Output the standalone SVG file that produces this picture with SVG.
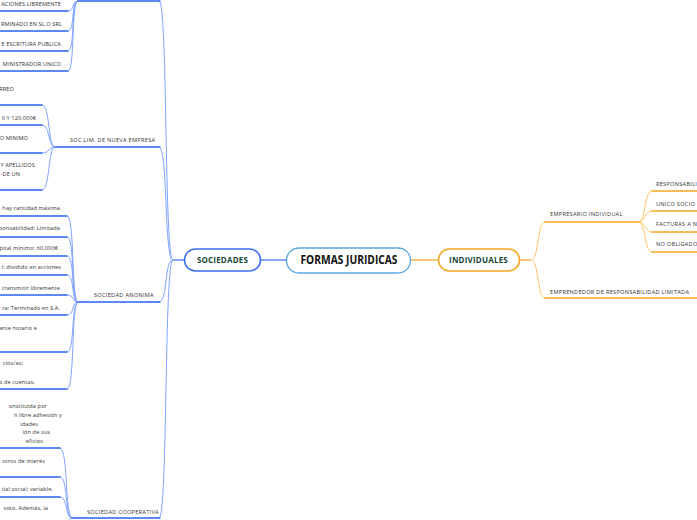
<svg xmlns="http://www.w3.org/2000/svg" width="697" height="520" viewBox="0 0 697 520">
<style>
.bg{fill:#ffffff}
.ul{stroke:#2d62f2;stroke-width:1.4;fill:none;stroke-linecap:round}
.cv{stroke:#7fa4ff;stroke-width:1;fill:none}
.oul{stroke:#f6a623;stroke-width:1.4;fill:none;stroke-linecap:round}
.ocv{stroke:#fbc46b;stroke-width:1;fill:none}
.t{font-family:"Open Sans","Noto Sans","DejaVu Sans",sans-serif;font-size:5.6px;fill:#333333;letter-spacing:0.28px}
.te{font-family:"Open Sans","Noto Sans","DejaVu Sans",sans-serif;font-size:5.6px;fill:#333333;text-anchor:end;letter-spacing:0.1px}
.tu{font-family:"Open Sans","Noto Sans","DejaVu Sans",sans-serif;font-size:5.6px;fill:#333333;text-anchor:end;letter-spacing:0.1px}
.lab{font-family:"Open Sans","Noto Sans","DejaVu Sans",sans-serif;font-size:5.6px;fill:#333333;letter-spacing:0.3px}
.main{font-family:"Open Sans","Noto Sans","DejaVu Sans",sans-serif;font-size:8px;font-weight:bold;fill:#17463a;text-anchor:middle;letter-spacing:0.2px}
.root{font-family:"Open Sans","Noto Sans","DejaVu Sans",sans-serif;font-size:11.5px;font-weight:bold;fill:#111111;text-anchor:middle}
</style>
<rect class="bg" x="0" y="0" width="697" height="520"/>

<g id="connectors">
  <line x1="261" y1="260" x2="286" y2="260" stroke="#3b6ef5" stroke-width="1.2"/>
  <line x1="411" y1="260" x2="438" y2="260" stroke="#f6a623" stroke-width="1.2"/>
  <line x1="184" y1="260" x2="173" y2="260" stroke="#3b6ef5" stroke-width="1.2"/>
  <path class="cv" d="M173,260 C164,260 168,1 159,1"/>
  <path class="cv" d="M173,260 C164,260 168,147 159,147"/>
  <path class="cv" d="M173,260 C164,260 168,302 159,302"/>
  <path class="cv" d="M173,260 C164,260 168,518 159,518"/>
  <path class="cv" d="M78,1 C71,1 75,11 68,11"/>
  <path class="cv" d="M78,1 C71,1 75,31 68,31"/>
  <path class="cv" d="M78,1 C71,1 75,51 68,51"/>
  <path class="cv" d="M78,1 C71,1 75,71 68,71"/>
  <path class="cv" d="M55,147 C48,147 50,105 42,105"/>
  <path class="cv" d="M55,147 C48,147 50,125 42,125"/>
  <path class="cv" d="M55,147 C48,147 50,153 42,153"/>
  <path class="cv" d="M55,147 C48,147 50,190 42,190"/>
  <path class="cv" d="M78,302 C71,302 75,216 67,216"/>
  <path class="cv" d="M78,302 C71,302 75,237 67,237"/>
  <path class="cv" d="M78,302 C71,302 75,256 67,256"/>
  <path class="cv" d="M78,302 C71,302 75,275 67,275"/>
  <path class="cv" d="M78,302 C71,302 75,295 67,295"/>
  <path class="cv" d="M78,302 C71,302 75,315 67,315"/>
  <path class="cv" d="M78,302 C71,302 75,352 67,352"/>
  <path class="cv" d="M78,302 C71,302 75,389 67,389"/>
  <path class="cv" d="M72,518 C65,518 68,448 60,448"/>
  <path class="cv" d="M72,518 C65,518 68,477 60,477"/>
  <path class="cv" d="M72,518 C65,518 68,497 60,497"/>
  <path class="cv" d="M72,518 C65,518 68,545 60,545"/>
  <line x1="519" y1="260" x2="531" y2="260" stroke="#f6a623" stroke-width="1.2"/>
  <path class="ocv" d="M531,260 C539,260 537,222 545,222"/>
  <path class="ocv" d="M531,260 C539,260 537,298 545,298"/>
  <path class="ocv" d="M638,222 C646,222 644,191 652,191"/>
  <path class="ocv" d="M638,222 C646,222 644,211 652,211"/>
  <path class="ocv" d="M638,222 C646,222 644,232 652,232"/>
  <path class="ocv" d="M638,222 C646,222 644,252 652,252"/>
</g>

<g id="root">
  <rect x="286.5" y="248" width="124" height="25" rx="12.5" fill="#ffffff" stroke="#5aa8df" stroke-width="1.3"/>
  <text class="root" x="349" y="264.3" textLength="97" lengthAdjust="spacingAndGlyphs">FORMAS JURIDICAS</text>
</g>

<g id="sociedades">
  <rect x="184.5" y="249" width="76" height="22" rx="11" fill="#ffffff" stroke="#3b6ef5" stroke-width="1.6"/>
  <text class="main" x="222.5" y="262.8">SOCIEDADES</text>
</g>

<g id="individuales">
  <rect x="438.5" y="249" width="81" height="22" rx="11" fill="#ffffff" stroke="#f6a623" stroke-width="1.6"/>
  <text class="main" x="478.5" y="262.8">INDIVIDUALES</text>
</g>

<g id="top-branch">
  <line class="ul" x1="78" y1="1" x2="160" y2="1"/>
</g>
<g id="top-c1"><line class="ul" x1="-2" y1="11" x2="68" y2="11"/><text class="tu" x="61" y="6.2">ACIONES LIBREMENTE</text></g>
<g id="top-c2"><line class="ul" x1="-2" y1="31" x2="68" y2="31"/><text class="tu" x="62" y="26.2">RMINADO EN SL O SRL</text></g>
<g id="top-c3"><line class="ul" x1="-2" y1="51" x2="68" y2="51"/><text class="tu" x="61" y="45.7">E ESCRITURA PUBLICA</text></g>
<g id="top-c4"><line class="ul" x1="-2" y1="71" x2="68" y2="71"/><text class="tu" x="61" y="65.7">MINISTRADOR UNICO</text></g>

<g id="soclim">
  <line class="ul" x1="55" y1="147" x2="160" y2="147"/>
  <text class="lab" x="70" y="142">SOC.LIM. DE NUEVA EMPRESA</text>
</g>
<g id="soclim-c1"><line class="ul" x1="-2" y1="105" x2="42" y2="105"/><text class="tu" x="14" y="91">RREO</text></g>
<g id="soclim-c2"><line class="ul" x1="-2" y1="125" x2="42" y2="125"/><text class="tu" x="36" y="120">0 Y 120.000€</text></g>
<g id="soclim-c3"><line class="ul" x1="-2" y1="153" x2="42" y2="153"/><text class="tu" x="28" y="140">O MINIMO</text></g>
<g id="soclim-c4"><line class="ul" x1="-2" y1="190" x2="42" y2="190"/><text class="tu" x="35" y="167">Y APELLIDOS</text><text class="tu" x="20" y="176">-DE UN</text></g>

<g id="anonima">
  <line class="ul" x1="78" y1="302" x2="160" y2="302"/>
  <text class="lab" x="94" y="297">SOCIEDAD ANONIMA</text>
</g>
<g id="anon-c1"><line class="ul" x1="-2" y1="216" x2="67" y2="216"/><text class="te" x="60" y="210">hay cantidad máxima</text></g>
<g id="anon-c2"><line class="ul" x1="-2" y1="237" x2="67" y2="237"/><text class="te" x="60" y="230">ponsabilidad: Limitada</text></g>
<g id="anon-c3"><line class="ul" x1="-2" y1="256" x2="67" y2="256"/><text class="te" x="58" y="250">pital mínimo: 60.000€</text></g>
<g id="anon-c4"><line class="ul" x1="-2" y1="275" x2="67" y2="275"/><text class="te" x="61" y="269">l: dividido en acciones</text></g>
<g id="anon-c5"><line class="ul" x1="-2" y1="295" x2="67" y2="295"/><text class="te" x="60" y="290">transmitir libremente</text></g>
<g id="anon-c6"><line class="ul" x1="-2" y1="315" x2="67" y2="315"/><text class="te" x="60" y="310">ra: Terminado en S.A.</text></g>
<g id="anon-c7"><line class="ul" x1="-2" y1="352" x2="67" y2="352"/><text class="te" x="37" y="330">ante notario e</text></g>
<g id="anon-c8"><line class="ul" x1="-2" y1="389" x2="67" y2="389"/><text class="te" x="23" y="365">cios/as;</text><text class="te" x="35" y="384">s de cuentas.</text></g>

<g id="cooperativa">
  <line class="ul" x1="72" y1="518" x2="160" y2="518"/>
  <text class="lab" x="87" y="514">SOCIEDAD COOPERATIVA</text>
</g>
<g id="coop-c1"><line class="ul" x1="-2" y1="448" x2="60" y2="448"/>
  <text class="te" x="47" y="408">onstituida por</text>
  <text class="te" x="62" y="417">n libre adhesión y</text>
  <text class="te" x="38" y="425.5">idades</text>
  <text class="te" x="50" y="434">ión de sus</text>
  <text class="te" x="43" y="443">eficios</text>
</g>
<g id="coop-c2"><line class="ul" x1="-2" y1="477" x2="60" y2="477"/><text class="te" x="45" y="463">otros de interés</text></g>
<g id="coop-c3"><line class="ul" x1="-2" y1="497" x2="60" y2="497"/><text class="te" x="53" y="491">ital social: variable.</text></g>
<g id="coop-c4"><line class="ul" x1="-2" y1="545" x2="60" y2="545"/><text class="te" x="48" y="510">voto. Además, la</text></g>

<g id="empresario">
  <line class="oul" x1="545" y1="222" x2="638" y2="222"/>
  <text class="lab" x="550" y="215.5">EMPRESARIO INDIVIDUAL</text>
</g>
<g id="emp-c1"><line class="oul" x1="652" y1="191" x2="700" y2="191"/><text class="t" x="656" y="186">RESPONSABILI</text></g>
<g id="emp-c2"><line class="oul" x1="652" y1="211" x2="700" y2="211"/><text class="t" x="656" y="205.5">UNICO SOCIO</text></g>
<g id="emp-c3"><line class="oul" x1="652" y1="232" x2="700" y2="232"/><text class="t" x="656" y="225.5">FACTURAS A N</text></g>
<g id="emp-c4"><line class="oul" x1="652" y1="252" x2="700" y2="252"/><text class="t" x="656" y="245.5">NO OBLIGADO</text></g>

<g id="emprendedor">
  <line class="oul" x1="545" y1="298" x2="700" y2="298"/>
  <text class="lab" x="550" y="294">EMPRENDEDOR DE RESPONSABILIDAD LIMITADA</text>
</g>
</svg>
